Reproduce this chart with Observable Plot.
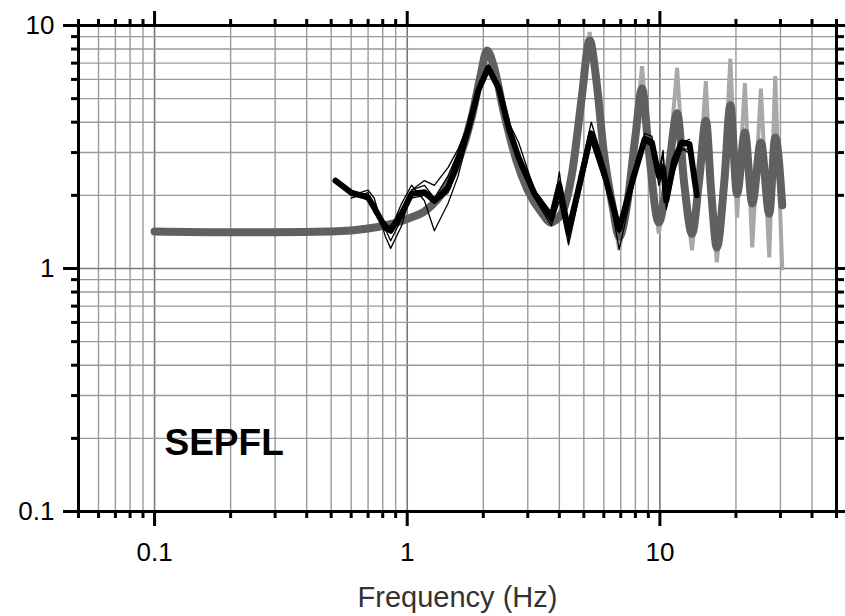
<!DOCTYPE html>
<html><head><meta charset="utf-8">
<script src="https://cdn.jsdelivr.net/npm/d3@7"></script>
<script src="https://cdn.jsdelivr.net/npm/@observablehq/plot@0.6"></script>
<style>body{margin:0;background:#fff;}</style>
</head><body><div id="chart"></div>
<script>
// ---- data ----
const stationName = "SEPFL";
const xLabel = "Frequency (Hz)";
const majorX = [0.1, 1, 10];
const xTickLabels = ["0.1", "1", "10"];
const minorX = [0.05,0.06,0.07,0.08,0.09,0.2,0.3,0.4,0.5,0.6,0.7,0.8,0.9,2,3,4,5,6,7,8,9,20,30,40,50];
const majorY = [0.1, 1, 10];
const yTickLabels = ["0.1", "1", "10"];
const minorY = [0.2,0.3,0.4,0.5,0.6,0.7,0.8,0.9,2,3,4,5,6,7,8,9];

// theoretical transfer function (gray)
const fTheory = [0.1,0.2,0.3,0.5,0.7,0.85,1.0,1.2,1.4,1.6,1.8,1.95,2.07,2.2,2.4,2.7,3.0,3.4,3.7,4.1,4.5,4.9,5.27,5.6,6.0,6.5,6.9,7.4,8.0,8.5,9.0,9.9,10.8,11.7,12.5,13.4,14.3,15.2,16.0,16.8,18.0,19.0,20.2,21.7,23.2,25.1,27.1,28.6,30.5];
const ampTheory = [1.42,1.41,1.41,1.42,1.46,1.52,1.6,1.75,2.1,2.8,4.2,6.2,7.9,6.8,4.5,2.8,2.1,1.7,1.55,1.7,2.5,5.0,8.7,6.0,3.0,1.8,1.35,1.8,3.5,5.5,3.2,1.55,2.5,4.35,2.2,1.39,2.3,4.06,2.0,1.22,2.3,4.7,2.03,3.63,1.85,3.3,1.68,3.46,1.82];
const ampTheoryRange = [1.42,1.41,1.41,1.42,1.46,1.52,1.6,1.75,2.1,2.8,4.2,6.2,8.0,6.8,4.5,2.8,2.1,1.7,1.5,1.7,2.5,5.0,9.4,6.0,3.0,1.8,1.19,1.8,3.5,6.8,3.2,1.39,2.5,6.7,2.2,1.19,2.3,5.9,2.0,1.06,2.3,7.3,1.62,5.8,1.22,5.5,1.11,6.2,1.0];

// observed spectral ratios (black)
const fObs = [0.52,0.6,0.7,0.74,0.82,0.86,0.95,1.04,1.17,1.28,1.45,1.59,1.74,1.91,2.09,2.3,2.52,2.76,3.19,3.72,4.0,4.35,4.8,5.35,6.0,6.9,7.7,8.7,9.3,9.9,10.3,10.6,11.4,12.2,13.1,14.0];
const obsMean = [2.30,2.05,1.96,1.78,1.47,1.43,1.68,2.03,2.06,1.90,2.15,2.78,3.70,5.4,6.7,5.55,3.8,2.86,2.03,1.62,2.2,1.42,2.2,3.6,2.5,1.45,2.2,3.4,3.3,2.4,2.6,1.9,2.8,3.3,3.25,2.0];
const obs1 = [null,2.0,2.1,1.95,1.35,1.21,1.5,2.1,2.2,1.95,2.4,3.0,3.9,5.6,6.9,5.8,3.6,3.0,2.1,1.55,2.5,1.3,2.4,4.0,2.7,1.2,2.0,3.6,3.5,2.3,3.0,1.8,2.9,3.3,3.4,null];
const obs2 = [null,1.95,2.05,1.7,1.55,1.45,1.85,2.2,1.9,1.43,1.85,2.4,3.5,5.2,6.5,5.3,3.9,2.7,1.95,1.5,1.9,1.25,2.0,3.3,2.3,1.5,2.3,3.3,3.2,2.5,3.06,1.75,2.5,3.1,3.0,null];
const obs3 = [null,2.1,1.9,1.8,1.5,1.5,1.75,2.1,2.3,2.2,2.6,3.1,3.9,5.3,6.6,5.6,4.0,3.3,2.1,1.7,2.0,1.55,2.3,3.6,2.6,1.4,2.1,3.5,3.4,2.2,2.5,2.0,2.8,3.3,3.3,null];
const obs4 = [null,2.0,1.95,1.85,1.45,1.3,1.6,1.95,2.0,1.85,2.05,2.6,3.6,5.5,6.8,5.4,3.7,2.8,2.0,1.65,2.3,1.35,2.1,3.4,2.4,1.5,2.4,3.3,3.2,2.4,2.7,1.85,2.6,3.1,3.1,null];

// ---- tables ----
const theory = fTheory.map((f, i) => ({f, a: ampTheory[i]}));
const theoryRange = fTheory.map((f, i) => ({f, a: ampTheoryRange[i]}));
const mean = fObs.map((f, i) => ({f, a: obsMean[i]}));
const thin = [obs1, obs2, obs3, obs4].flatMap((arr, k) => fObs.map((f, i) => ({f, a: arr[i], k})));

const font = "'Liberation Sans', Arial, Helvetica, sans-serif";
const chart = Plot.plot({
  width: 845, height: 616,
  marginLeft: 78, marginRight: 9, marginTop: 25, marginBottom: 105,
  style: {fontFamily: font, background: "#fff", color: "#000"},
  x: {type: "log", domain: [0.05, 50]},
  y: {type: "log", domain: [0.1, 10]},
  marks: [
    Plot.gridX(minorX, {stroke: "#9a9a9a", strokeOpacity: 1, strokeWidth: 1.4}),
    Plot.gridX(majorX, {stroke: "#777", strokeOpacity: 1, strokeWidth: 1.6}),
    Plot.gridY(minorY, {stroke: "#9a9a9a", strokeOpacity: 1, strokeWidth: 1.4}),
    Plot.gridY(majorY, {stroke: "#777", strokeOpacity: 1, strokeWidth: 1.6}),
    Plot.line(theoryRange, {x: "f", y: "a", stroke: "#a8a8a8", strokeWidth: 4, strokeLinejoin: "miter"}),
    Plot.line(theory, {x: "f", y: "a", stroke: "#606060", strokeWidth: 8, curve: "monotone-x"}),
    Plot.line(thin, {x: "f", y: "a", z: "k", stroke: "#000", strokeWidth: 1.3}),
    Plot.line(mean, {x: "f", y: "a", stroke: "#000", strokeWidth: 6, strokeLinejoin: "round"}),
    Plot.text([stationName], {frameAnchor: "bottom-left", dx: 86, dy: -57, lineAnchor: "bottom", textAnchor: "start", fontSize: 37, fontWeight: "bold", fill: "#000"}),
    Plot.text([xLabel], {frameAnchor: "bottom", dy: 95, fontSize: 29, fill: "#333"}),
    Plot.axisX({ticks: majorX, tickSize: 15, tickPadding: 16, strokeWidth: 3, fontSize: 26, label: null, tickFormat: d => xTickLabels[majorX.indexOf(d)]}),
    Plot.axisX({ticks: minorX, tickSize: 7, strokeWidth: 3, label: null, tickFormat: () => ""}),
    Plot.axisX({anchor: "top", ticks: majorX, tickSize: 15, strokeWidth: 3, label: null, tickFormat: () => ""}),
    Plot.axisX({anchor: "top", ticks: minorX, tickSize: 7, strokeWidth: 3, label: null, tickFormat: () => ""}),
    Plot.axisY({ticks: majorY, tickSize: 15, tickPadding: 9, strokeWidth: 3, fontSize: 26, label: null, tickFormat: d => yTickLabels[majorY.indexOf(d)]}),
    Plot.axisY({ticks: minorY, tickSize: 7, strokeWidth: 3, label: null, tickFormat: () => ""}),
    Plot.axisY({anchor: "right", ticks: majorY, tickSize: 15, strokeWidth: 3, label: null, tickFormat: () => ""}),
    Plot.axisY({anchor: "right", ticks: minorY, tickSize: 7, strokeWidth: 3, label: null, tickFormat: () => ""}),
    Plot.frame({stroke: "#000", strokeWidth: 3})
  ]
});
document.getElementById("chart").appendChild(chart);
</script></body></html>
